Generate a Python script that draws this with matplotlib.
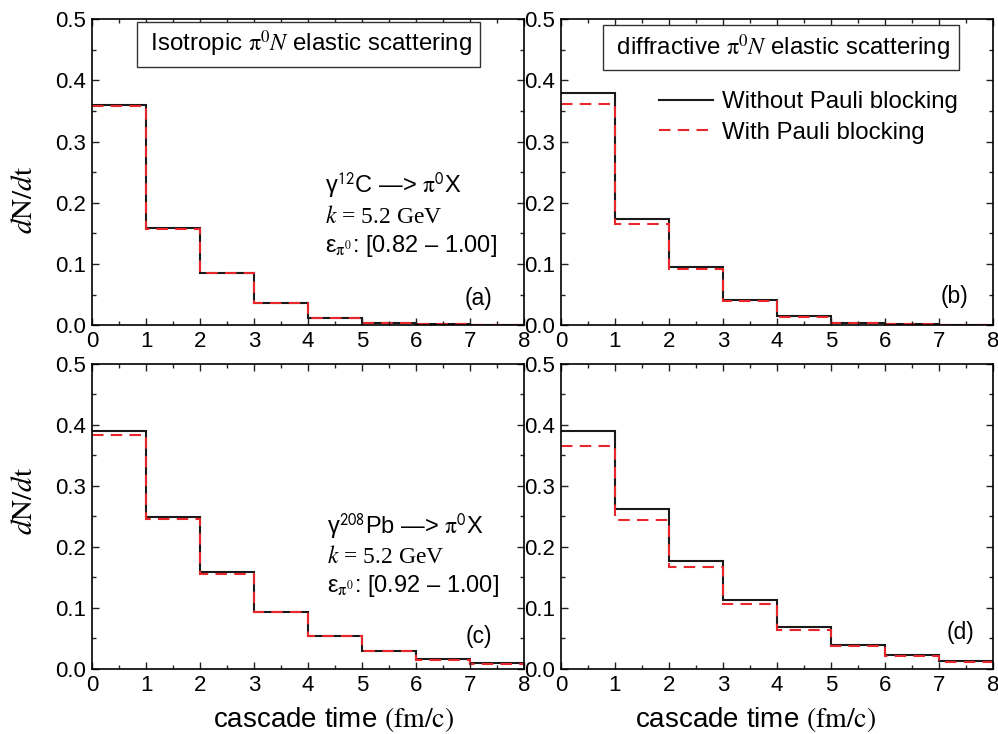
import numpy as np
import matplotlib
matplotlib.use('Agg')
import matplotlib.pyplot as plt
from matplotlib.ticker import MultipleLocator, FormatStrFormatter

plt.rcParams['font.family'] = 'Liberation Sans'
plt.rcParams['mathtext.fontset'] = 'stix'
plt.rcParams['axes.linewidth'] = 1.2

# cascade time bins (fm/c)
edges = np.arange(0, 9)

# (a) gamma 12C, isotropic pi0 N scattering
a_without = [0.3595, 0.158, 0.0855, 0.036, 0.012, 0.0038, 0.0016, 0.0006]
a_with = [0.358, 0.157, 0.0845, 0.0355, 0.0118, 0.0036, 0.0015, 0.0005]
# (b) gamma 12C, diffractive pi0 N scattering
b_without = [0.380, 0.1727, 0.0953, 0.0414, 0.0142, 0.0038, 0.0016, 0.0006]
b_with = [0.3617, 0.1656, 0.092, 0.0398, 0.0136, 0.0035, 0.0015, 0.0005]
# (c) gamma 208Pb, isotropic
c_without = [0.3897, 0.2495, 0.1583, 0.0939, 0.0546, 0.030, 0.0158, 0.0093]
c_with = [0.3843, 0.2462, 0.1561, 0.0928, 0.0535, 0.0289, 0.0147, 0.0082]
# (d) gamma 208Pb, diffractive
d_without = [0.3903, 0.2615, 0.1769, 0.1135, 0.0688, 0.0398, 0.0229, 0.0126]
d_with = [0.3657, 0.2445, 0.1665, 0.107, 0.0644, 0.0371, 0.0218, 0.012]

panel_tags = ['(a)', '(b)', '(c)', '(d)']
tag_pos = [(0.926, 0.088), (0.944, 0.095), (0.926, 0.105), (0.958, 0.121)]
titles = [r' Isotropic $\mathrm{π}^0N$ elastic scattering ',
          r' diffractive $\mathrm{π}^0N$ elastic scattering ']
title_pos = [(0.501, 0.918), (0.509, 0.908)]

fig = plt.figure(figsize=(9.98, 7.34), dpi=100)
ax_a = fig.add_axes([0.0922, 0.557, 0.433, 0.417])
ax_b = fig.add_axes([0.562, 0.557, 0.433, 0.417])
ax_c = fig.add_axes([0.0922, 0.0886, 0.433, 0.4155])
ax_d = fig.add_axes([0.562, 0.0886, 0.433, 0.4155])
axes = [ax_a, ax_b, ax_c, ax_d]
series = [(a_without, a_with), (b_without, b_with),
          (c_without, c_with), (d_without, d_with)]

for ax, (wo, wi), tag, tp in zip(axes, series, panel_tags, tag_pos):
    ax.stairs(wo, edges, baseline=None, color='#1a1a1a', lw=1.5,
              label='Without Pauli blocking')
    ax.stairs(wi, edges, baseline=None, color='#e8262b', lw=1.5,
              linestyle=(0, (5.5, 3.5)), label='With Pauli blocking')
    ax.set_xlim(0, 8)
    ax.set_ylim(0, 0.5)
    ax.xaxis.set_major_locator(MultipleLocator(1))
    ax.xaxis.set_minor_locator(MultipleLocator(0.5))
    ax.yaxis.set_major_locator(MultipleLocator(0.1))
    ax.yaxis.set_minor_locator(MultipleLocator(0.05))
    ax.yaxis.set_major_formatter(FormatStrFormatter('%.1f'))
    ax.tick_params(which='both', direction='in', top=True, right=True,
                   labelsize=16, color='#222222', width=1.0, pad=4.5)
    ax.tick_params(which='major', length=5)
    ax.tick_params(which='minor', length=3)
    ax.text(tp[0], tp[1], tag, transform=ax.transAxes, ha='right',
            va='center', fontsize=16.5)

# title boxes in the upper panels
for ax, title, pos in zip([ax_a, ax_b], titles, title_pos):
    ax.text(pos[0], pos[1], title, transform=ax.transAxes, ha='center',
            va='center', fontsize=17.3,
            bbox=dict(boxstyle='square,pad=0.3', fc='white', ec='#333333',
                      lw=1.0))

ax_b.legend(loc='upper left', bbox_to_anchor=(0.228, 0.765), frameon=False,
            fontsize=17.3, handlelength=2.25, handletextpad=0.35,
            labelspacing=0.36, borderaxespad=0, borderpad=0)

# reaction labels
reac_a = [r'γ$^{\mathsf{12}}$C —> $\mathrm{π}^{\mathsf{0}}$X',
          r'$k$ = 5.2 GeV',
          r'ε$_{\mathrm{π}^0}$: [0.82 – 1.00]']
reac_c = [r'γ$^{\mathsf{208}}$Pb —> $\mathrm{π}^{\mathsf{0}}$X',
          r'$k$ = 5.2 GeV',
          r'ε$_{\mathrm{π}^0}$: [0.92 – 1.00]']
reac_pos = [(ax_a, reac_a, 0.539, [0.431, 0.333, 0.239]),
            (ax_c, reac_c, 0.544, [0.443, 0.348, 0.252])]
for ax, lines, x0, ys in reac_pos:
    for i, line in enumerate(lines):
        ax.text(x0, ys[i], line, transform=ax.transAxes,
                ha='left', va='baseline', fontsize=17,
                family='Liberation Serif' if i == 1 else 'Liberation Sans')

# axis labels
for ax, yc in [(ax_a, 0.408), (ax_c, 0.551)]:
    ax.set_ylabel(r'$d\mathrm{N}/d\mathrm{t}$', fontsize=21)
    ax.yaxis.set_label_coords(-0.125, yc)
for ax, xc in [(ax_c, 0.560), (ax_d, 0.451)]:
    ax.set_xlabel(r'cascade time $\mathrm{(fm/c)}$', fontsize=20)
    ax.xaxis.set_label_coords(xc, -0.118)

fig.savefig('out.png', dpi=100)
